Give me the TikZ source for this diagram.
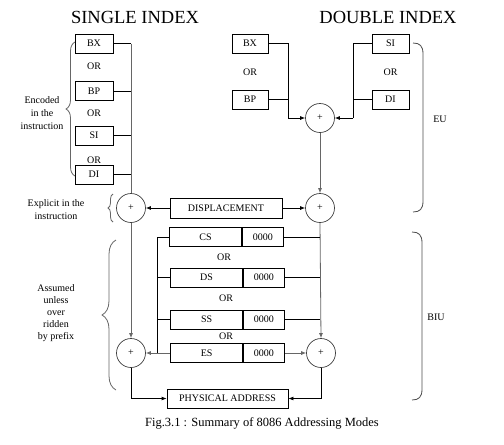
\documentclass[tikz,border=0pt]{standalone}
\usepackage{fontspec}
\setmainfont{Liberation Serif}
\usetikzlibrary{arrows.meta,decorations.pathreplacing,calc}
\begin{document}
\begin{tikzpicture}[x=1pt,y=-1pt,
  lbl/.style={font=\fontsize{10}{12}\selectfont},
  reg/.style={draw,line width=0.8pt,minimum width=38pt,minimum height=19pt,inner sep=0pt,lbl},
  sum/.style={draw=black!75,line width=0.7pt,circle,minimum size=29pt,inner sep=0pt,lbl},
  side/.style={align=center,font=\fontsize{10}{13}\selectfont},
  wire/.style={line width=0.8pt},
  vwire/.style={line width=0.8pt,draw=black!60},
  arr/.style={-{Latex[length=5pt,width=4pt]}},
  brc/.style={draw=black!60,line width=0.8pt,decorate},
  bkt/.style={draw=black!70,line width=0.8pt},
  ttl/.style={font=\fontsize{18.5}{20}\selectfont}]
\useasboundingbox (0,0) rectangle (504,445);

% titles
\node[ttl] (t1) at (135,17) {SINGLE INDEX};
\node[ttl] (t2) at (388,17) {DOUBLE INDEX};

% single index registers
\node[reg] (sBX) at (94,43.5) {BX};
\node[reg] (sBP) at (94,91) {BP};
\node[reg] (sSI) at (94,135.5) {SI};
\node[reg] (sDI) at (94,174.5) {DI};
\node[lbl] (or1) at (94,66) {OR};
\node[lbl] (or2) at (94,113) {OR};
\node[lbl] (or3) at (94,160.5) {OR};

\node[sum] (s1) at (131,208) {+};
\node[sum] (s2) at (131,353) {+};

\coordinate (sbusT) at (131,43.5);
\draw[vwire] (sbusT) -- (s1.north);
\draw[wire] (sBX.east) -- (sbusT);
\draw[wire] (sBP.east) -- (sBP.east -| sbusT);
\draw[wire] (sSI.east) -- (sSI.east -| sbusT);
\draw[wire] (sDI.east) -- (sDI.east -| sbusT);
\draw[vwire,arr] (s1.south) -- (s2.north);

% double index registers
\node[reg,minimum width=36pt] (dBX) at (250,43.5) {BX};
\node[reg,minimum width=36pt] (dBP) at (250,99.5) {BP};
\node[reg,minimum width=37pt] (dSI) at (390.5,43.5) {SI};
\node[reg,minimum width=37pt] (dDI) at (390.5,99.5) {DI};
\node[lbl] (or4) at (250,72) {OR};
\node[lbl] (or5) at (390.5,72) {OR};

\node[sum] (d1) at (320,118) {+};
\node[sum] (r1) at (320,208) {+};
\node[sum] (r2) at (321,353) {+};

\coordinate (lbus) at (288,118);
\coordinate (rbus) at (353,118);
\draw[wire] (dBX.east) -| (lbus);
\draw[wire] (dBP.east) -- (dBP.east -| lbus);
\draw[wire,arr] (lbus) -- (d1.west);
\draw[wire] (dSI.west) -| (rbus);
\draw[wire] (dDI.west) -- (dDI.west -| rbus);
\draw[wire,arr] (rbus) -- (d1.east);
\draw[vwire,arr] (d1.south) -- (r1.north);

% displacement
\node[reg,minimum width=112pt,minimum height=20pt] (disp) at (226,208) {DISPLACEMENT};
\draw[wire,arr] (disp.west) -- (s1.east);
\draw[wire,arr] (disp.east) -- (r1.west);

% segment registers
\tikzset{segl/.style={reg,minimum width=72pt,anchor=east},
         segr/.style={reg,minimum width=41pt,anchor=west}}
\node[segl] (cs) at (242,237) {CS};
\node[segr] (cs0) at (cs.east) {0000};
\node[segl] (ds) at (243,277.5) {DS};
\node[segr] (ds0) at (ds.east) {0000};
\node[segl] (ss) at (243,319.5) {SS};
\node[segr] (ss0) at (ss.east) {0000};
\node[segl] (es) at (243,353) {ES};
\node[segr] (es0) at (es.east) {0000};
\node[lbl] (or6) at (224,257) {OR};
\node[lbl] (or7) at (226,298) {OR};
\node[lbl] (or8) at (226,336) {OR};

\coordinate (lb1) at (157,237);
\coordinate (lb4) at (157,353);
\draw[wire] (cs.west) -- (lb1) -- (lb4);
\draw[wire] (ds.west) -- (ds.west -| lb1);
\draw[wire] (ss.west) -- (ss.west -| lb1);
\draw[vwire,arr] (es.west) -- (s2.east);

\draw[vwire,arr] (r1.south) -- (r2.north);
\draw[wire] (cs0.east) -- (cs0.east -| r1.south);
\draw[wire] (ds0.east) -- (ds0.east -| r1.south);
\draw[wire] (ss0.east) -- (ss0.east -| r1.south);
\draw[vwire,arr] (es0.east) -- (r2.west);

% physical address
\node[reg,minimum width=121pt] (phys) at (227.5,398.5) {PHYSICAL ADDRESS};
\draw[wire,arr] (s2.south) |- (phys.west);
\draw[wire,arr] (r2.south) |- (phys.east);

% braces and side texts
\draw[brc,decoration={brace,amplitude=9pt}] (75,176) -- (75,42);
\node[side] (enc) at (42,113) {Encoded\\in the\\instruction};
\draw[brc,decoration={brace,amplitude=5pt}] (113,222) -- (113,194);
\node[side] (expl) at (56,210) {Explicit in the\\instruction};
\draw[bkt] (413,43) .. controls (420,43) and (423,46) .. (423,54) -- (423,201) .. controls (423,209) and (420,212) .. (413,212);
\node[lbl] (eu) at (440,119) {EU};
\draw[brc,decoration={brace,amplitude=14pt}] (116,390) -- (116,240);
\node[side,font=\fontsize{10}{12}\selectfont] (ass) at (56,313) {Assumed\\unless\\over\\ridden\\by prefix};
\draw[bkt] (412,232) .. controls (419,232) and (422,235) .. (422,243) -- (422,389) .. controls (422,397) and (419,400) .. (412,400);
\node[lbl] (biu) at (436,317) {BIU};

% caption
\node[font=\fontsize{12.5}{14}\selectfont] (cap) at (262,423) {Fig.3.1 : Summary of 8086 Addressing Modes};
\end{tikzpicture}
\end{document}
